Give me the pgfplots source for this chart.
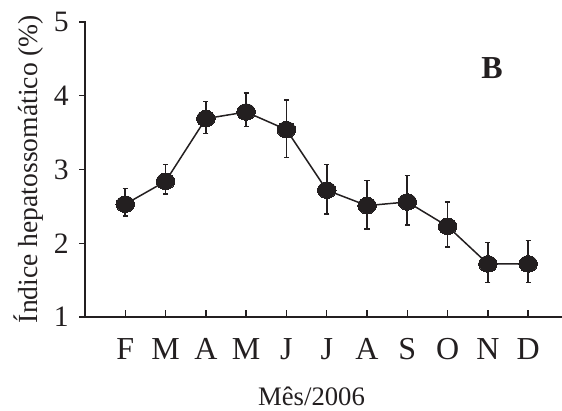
\documentclass[border=0pt]{standalone}
\usepackage{fontspec}
\setmainfont{Liberation Serif}
\usepackage{pgfplots}
\pgfplotsset{compat=1.18}
\definecolor{ink}{RGB}{35,31,32}
\begin{document}
\begin{tikzpicture}[x=1pt,y=1pt]
\useasboundingbox (0,0) rectangle (562,410);
\begin{axis}[
 at={(85pt,93pt)}, anchor=south west,
 scale only axis, width=477pt, height=295pt,
 xmin=0, xmax=11.84, ymin=1, ymax=5,
 axis x line*=bottom, axis y line*=left,
 axis line style={line width=1.6pt, color=ink, -},
 clip=false,
 xtick={1,...,11},
 xticklabels={F,M,A,M,J,J,A,S,O,N,D},
 ytick={1,2,3,4,5},
 tick align=inside,
 major tick length=7pt,
 x tick style={line width=1.4pt, color=ink},
 y tick style={line width=1.4pt, color=ink, xshift=-6pt},
 /pgf/number format/assume math mode=true,
 xticklabel style={font=\fontsize{32}{32}\selectfont, anchor=base, inner sep=0pt, yshift=-42pt, text=ink},
 yticklabel style={font=\fontsize{29.6}{30}\selectfont, anchor=east, inner sep=0pt, xshift=-16pt, text=ink},
]
\addplot[color=ink, line width=1.5pt, mark=*, mark size=8.3pt,
  mark options={fill=ink, draw=ink, xscale=1.12, line width=0pt},
  error bars/.cd, y dir=both, y explicit,
  error bar style={line width=1.8pt, color=ink},
  error mark options={rotate=90, mark size=2.6pt, line width=1.5pt, color=ink}]
 coordinates {
 (1,2.53) += (0,0.21) -= (0,0.16)
 (2,2.84) += (0,0.23) -= (0,0.17)
 (3,3.69) += (0,0.23) -= (0,0.20)
 (4,3.78) += (0,0.26) -= (0,0.20)
 (5,3.54) += (0,0.40) -= (0,0.38)
 (6,2.72) += (0,0.35) -= (0,0.32)
 (7,2.51) += (0,0.34) -= (0,0.32)
 (8,2.56) += (0,0.36) -= (0,0.31)
 (9,2.23) += (0,0.33) -= (0,0.28)
 (10,1.72) += (0,0.29) -= (0,0.25)
 (11,1.72) += (0,0.32) -= (0,0.25)
 };
\end{axis}
\node[font=\fontsize{32}{32}\selectfont\bfseries, text=ink] at (492,342) {B};
\node[anchor=base, font=\fontsize{26.7}{27}\selectfont, inner sep=0pt, text=ink] at (311.5,5) {Mês/2006};
\node[rotate=90, anchor=base, font=\fontsize{27.6}{28}\selectfont, inner sep=0pt, text=ink] at (37,241) {Índice hepatossomático (\%)};
\end{tikzpicture}
\end{document}
